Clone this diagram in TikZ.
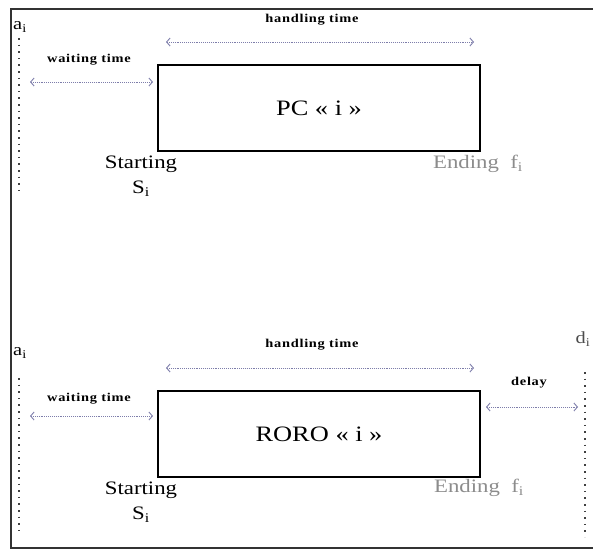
\documentclass[tikz,border=0pt]{standalone}
\usepackage{fontspec}
\setmainfont{Liberation Serif}[FakeStretch=1.2]
\usepackage{tikz}
\usetikzlibrary{positioning,arrows.meta}

\definecolor{spanblue}{RGB}{125,125,170}
\tikzset{
  opbox/.style={draw, line width=2.2pt, minimum width=322pt, minimum height=86pt,
    inner sep=0pt, font=\fontsize{22}{24}\selectfont},
  timespan/.style={draw=spanblue, densely dotted, line width=0.9pt,
    {Straight Barb[length=3.5pt,width=8pt]}-{Straight Barb[length=3.5pt,width=8pt]}},
  limitline/.style={draw=black!75, line width=1.3pt, dash pattern=on 1.6pt off 5pt},
  spanlabel/.style={font=\fontsize{12}{14}\selectfont\bfseries\addfontfeatures{LetterSpace=6}},
  eventlabel/.style={font=\fontsize{19}{25}\selectfont, align=center, inner sep=0pt},
  datelabel/.style={font=\fontsize{17}{20}\selectfont, inner sep=0pt},
}

\begin{document}
\begin{tikzpicture}[x=1pt, y=-1pt]
\useasboundingbox (0,0) rectangle (593,550);
% frame
\draw[black!80, line width=1.8pt] (593,9) -- (11,9) -- (11,548) -- (593,548);

% PC
\node[opbox] (pc) at (319,108) {PC « i »};
\node[datelabel] (a1) at (20,27) {a\textsubscript{i}};
\coordinate (a1top) at (19,38);
\coordinate (a1bot) at (19,192);
\draw[limitline] (a1top) -- (a1bot);

\coordinate (w1start) at (30,82);
\coordinate (w1end) at (153,82);
\draw[timespan] (w1start) -- (w1end);
\node[spanlabel] (w1lbl) at (89,60) {waiting time};

\coordinate (h1start) at (166,42);
\coordinate (h1end) at (474,42);
\draw[timespan] (h1start) -- (h1end);
\node[spanlabel] (h1lbl) at (312,20) {handling time};

\node[eventlabel] (s1) at (141,176) {Starting\\S\textsubscript{i}};
\node[eventlabel, text=black!45] (f1) at (478,164) {Ending~~f\textsubscript{i}};

% RORO
\node[opbox] (roro) at (319,434) {RORO « i »};
\node[datelabel] (a2) at (20,353) {a\textsubscript{i}};
\coordinate (a2top) at (19,378);
\coordinate (a2bot) at (19,536);
\draw[limitline] (a2top) -- (a2bot);

\coordinate (w2start) at (30,416);
\coordinate (w2end) at (153,416);
\draw[timespan] (w2start) -- (w2end);
\node[spanlabel] (w2lbl) at (89,399) {waiting time};

\coordinate (h2start) at (166,368);
\coordinate (h2end) at (474,368);
\draw[timespan] (h2start) -- (h2end);
\node[spanlabel] (h2lbl) at (312,345) {handling time};

\node[eventlabel] (s2) at (141,502) {Starting\\S\textsubscript{i}};
\node[eventlabel, text=black!45] (f2) at (479,488) {Ending~~f\textsubscript{i}};

% due date and delay
\node[datelabel, text=black!70] (d2) at (583,339) {d\textsubscript{i}};
\coordinate (d2top) at (585,372);
\coordinate (d2bot) at (585,537);
\draw[limitline] (d2top) -- (d2bot);

\coordinate (dlstart) at (486,407);
\coordinate (dlend) at (578,407);
\draw[timespan] (dlstart) -- (dlend);
\node[spanlabel] (dllbl) at (529,383) {delay};
\end{tikzpicture}
\end{document}
